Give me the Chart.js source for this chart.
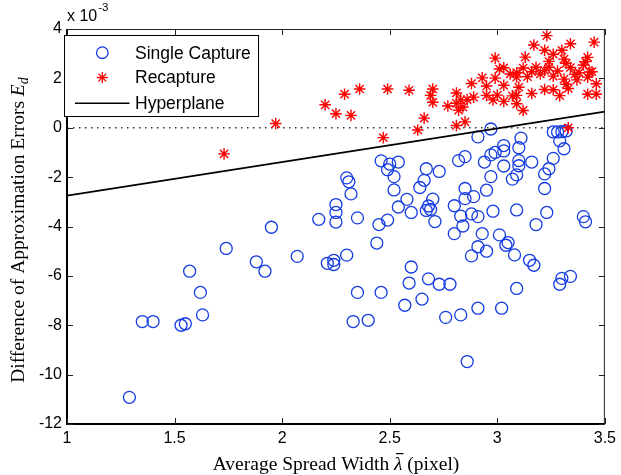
<!DOCTYPE html>
<html>
<head>
<meta charset="utf-8">
<script src="https://cdn.jsdelivr.net/npm/chart.js@4.4.1/dist/chart.umd.min.js"></script>
<style>
  html, body { margin: 0; padding: 0; background: #fff; }
  #wrap { width: 621px; height: 475px; position: relative; }
</style>
</head>
<body>
<div id="wrap"><canvas id="chart"></canvas></div>
<script>
// ═══ DATA (values in units of 1e-3 on the y axis) ═══
const singleX = [1.29, 1.35, 1.40, 1.53, 1.55, 1.62, 1.63, 1.57, 1.74, 1.88, 1.92, 1.95, 2.07, 2.17, 2.21,
  2.25, 2.25, 2.25, 2.24, 2.24, 2.33, 2.35, 2.40, 2.46, 2.30, 2.31, 2.32, 2.35, 2.30, 2.45, 2.49, 2.44,
  2.46, 2.50, 2.49, 2.54, 2.52, 2.52, 2.58, 2.54, 2.60, 2.64, 2.66, 2.67, 2.73, 2.70, 2.68, 2.67, 2.69,
  2.71, 2.60, 2.59, 2.57, 2.65, 2.68, 2.73, 2.78, 2.76, 2.83, 2.86, 2.91, 3.02, 3.09, 3.29, 3.30, 3.34,
  2.82, 2.85, 2.80, 2.85, 2.85, 2.83, 2.84, 2.80, 2.91, 2.97, 2.94, 2.97, 2.99, 3.03, 3.03, 3.03, 3.10,
  3.11, 3.10, 3.10, 3.09, 3.07, 3.16, 2.97, 2.95, 2.89, 2.88, 2.91, 2.98, 3.09, 2.93, 2.91, 2.88, 2.95,
  3.01, 3.04, 3.05, 3.08, 3.15, 3.17, 3.18, 3.23, 3.22, 3.22, 3.24, 3.26, 3.31, 3.29, 3.26, 3.28, 3.30,
  3.32, 3.40, 3.41];
const singleY = [-10.92, -7.85, -7.85, -8.00, -7.94, -6.67, -7.58, -5.81, -4.89, -5.43, -5.81, -4.03, -5.21, -3.71, -5.49,
  -3.11, -3.43, -3.82, -5.37, -5.54, -7.85, -6.67, -7.80, -6.67, -2.03, -2.19, -2.68, -3.65, -5.16, -3.92, -3.74, -4.67,
  -1.34, -1.47, -1.70, -1.39, -1.98, -2.52, -2.90, -3.21, -3.43, -2.42, -2.13, -1.66, -1.77, -2.89, -3.17, -3.35, -3.31,
  -3.80, -5.64, -6.29, -7.19, -6.94, -6.12, -6.34, -6.34, -7.68, -7.58, -9.47, -7.31, -7.31, -6.51, -6.34, -6.10, -6.02,
  -1.33, -1.17, -3.16, -2.46, -2.87, -3.58, -3.98, -4.29, -0.37, -0.05, -1.39, -1.10, -1.00, -0.72, -0.94, -1.55, -0.81,
  -0.42, -1.33, -1.54, -1.91, -2.08, -1.39, -1.98, -2.53, -2.79, -3.49, -3.60, -3.38, -3.33, -4.29, -4.82, -5.19, -5.00,
  -4.34, -4.76, -4.65, -5.15, -5.37, -5.57, -3.92, -3.43, -2.46, -1.87, -1.66, -1.24, -0.85, -0.53, -0.17, -0.17, -0.16,
  -0.13, -3.60, -3.81];

const recapX = [1.73, 1.97, 2.20, 2.25, 2.29, 2.32, 2.36, 2.47, 2.49, 2.59, 2.63, 2.66, 2.69, 2.70, 2.70,
  2.77, 2.81, 2.81, 2.85, 2.83, 2.86, 2.89, 2.81, 2.82, 2.84, 2.88, 2.93, 2.95, 2.99, 2.99, 3.01, 3.03,
  3.03, 2.95, 2.98, 3.00, 3.03, 3.09, 3.09, 3.10, 3.09, 3.09, 3.12, 3.13, 3.14, 3.16, 3.17, 3.18, 3.16,
  3.22, 3.22, 3.23, 3.24, 3.24, 3.26, 3.26, 3.22, 3.26, 3.29, 3.30, 3.31, 3.32, 3.31, 3.32, 3.33, 3.34,
  3.36, 3.34, 3.38, 3.40, 3.41, 3.42, 3.43, 3.42, 3.44, 3.45, 3.46, 3.42, 3.46, 3.33,
  3.06, 3.12, 3.20, 3.28, 3.37, 3.07];
const recapY = [-1.06, 0.17, 0.93, 0.57, 1.36, 0.50, 1.57, -0.40, 1.57, 1.52, -0.09, 0.39, 1.31, 1.57, 1.03,
  0.88, 1.41, 0.09, 0.24, 1.13, 1.14, 1.24, 0.99, 0.71, 0.84, 1.79, 2.02, 1.69, 2.01, 2.82, 2.38, 2.43,
  1.72, 1.31, 1.13, 1.32, 1.07, 2.23, 2.05, 1.64, 1.31, 0.97, 0.70, 2.86, 2.07, 2.27, 3.35, 2.45, 1.39,
  2.32, 3.14, 3.73, 2.69, 2.45, 2.09, 2.98, 1.55, 1.54, 1.30, 3.14, 2.78, 2.61, 1.97, 1.76, 1.59, 2.44,
  2.17, 3.40, 2.23, 2.54, 2.68, 2.85, 2.26, 2.05, 2.27, 3.47, 1.78, 1.36, 1.36, 0.00,
  2.18, 2.42, 2.18, 2.30, 1.94, 1.29];

const hyperX = [1, 3.5];
const hyperY = [-2.75, 0.65];

const zeroX = [1, 3.5];
const zeroY = [0, 0];

const xTicks = [1, 1.5, 2, 2.5, 3, 3.5];
const yTicks = [-12, -10, -8, -6, -4, -2, 0, 2, 4];

const legendLabels = ['Single Capture', 'Recapture', 'Hyperplane'];

const BLUE = 'rgb(20,60,225)';
const RED = '#ff0000';
const SANS = '"Liberation Sans", Arial, sans-serif';
const SERIF = '"Liberation Serif", "Times New Roman", serif';

const pts = (xs, ys) => xs.map((x, i) => ({ x: x, y: ys[i] }));

// ═══ FRAME, TICKS, TITLES, LEGEND ═══
const overlay = {
  id: 'overlay',
  afterDraw(chart) {
    const ctx = chart.ctx;
    const a = chart.chartArea;
    const sx = chart.scales.x, sy = chart.scales.y;
    ctx.save();

    // box
    ctx.fillStyle = '#000';
    ctx.fillRect(a.left - 1, a.top, 2, a.bottom - a.top + 1);
    ctx.fillRect(a.left - 1, a.bottom - 1, a.right - a.left + 1, 2);
    ctx.fillStyle = '#222';
    ctx.fillRect(a.left, a.top, a.right - a.left, 1);
    ctx.fillRect(a.right - 1, a.top, 1, a.bottom - a.top);

    // inward ticks on all four sides
    ctx.strokeStyle = '#222';
    ctx.lineWidth = 1;
    ctx.beginPath();
    xTicks.forEach(v => {
      const px = Math.round(sx.getPixelForValue(v)) + 0.5;
      ctx.moveTo(px, a.bottom); ctx.lineTo(px, a.bottom - 6);
      ctx.moveTo(px, a.top); ctx.lineTo(px, a.top + 6);
    });
    yTicks.forEach(v => {
      const py = Math.round(sy.getPixelForValue(v)) + 0.5;
      ctx.moveTo(a.left, py); ctx.lineTo(a.left + 6, py);
      ctx.moveTo(a.right, py); ctx.lineTo(a.right - 6, py);
    });
    ctx.stroke();

    // exponent label
    ctx.fillStyle = '#000';
    ctx.textBaseline = 'alphabetic';
    ctx.textAlign = 'left';
    ctx.font = '16px ' + SANS;
    ctx.fillText('x 10', 67, 21);
    const w10 = ctx.measureText('x 10').width;
    ctx.font = '11.5px ' + SANS;
    ctx.fillText('-3', 67 + w10 + 1, 11);

    // x title
    const xCenter = 336, xBase = 470, fs = 19.5;
    ctx.font = fs + 'px ' + SERIF;
    const t1 = 'Average Spread Width ';
    const t3 = ' (pixel)';
    const w1 = ctx.measureText(t1).width, w3 = ctx.measureText(t3).width;
    ctx.font = 'italic ' + fs + 'px ' + SERIF;
    const w2 = ctx.measureText('\u03bb').width;
    let x0 = xCenter - (w1 + w2 + w3) / 2;
    ctx.font = fs + 'px ' + SERIF;
    ctx.fillText(t1, x0, xBase);
    ctx.font = 'italic ' + fs + 'px ' + SERIF;
    ctx.fillText('\u03bb', x0 + w1, xBase);
    ctx.fillRect(x0 + w1 + 2, xBase - 17, w2 - 1, 1.2);
    ctx.font = fs + 'px ' + SERIF;
    ctx.fillText(t3, x0 + w1 + w2, xBase);

    // y title (rotated)
    ctx.save();
    ctx.translate(24, 230);
    ctx.rotate(-Math.PI / 2);
    const m = 'Difference of Approximation Errors ';
    ctx.font = fs + 'px ' + SERIF;
    const wm = ctx.measureText(m).width;
    ctx.font = 'italic ' + fs + 'px ' + SERIF;
    const we = ctx.measureText('E').width;
    ctx.font = 'italic 14px ' + SERIF;
    const wd = ctx.measureText('d').width;
    const y0 = -(wm + we + wd) / 2;
    ctx.font = fs + 'px ' + SERIF;
    ctx.fillText(m, y0, 0);
    ctx.font = 'italic ' + fs + 'px ' + SERIF;
    ctx.fillText('E', y0 + wm, 0);
    ctx.font = 'italic 14px ' + SERIF;
    ctx.fillText('d', y0 + wm + we, 4);
    ctx.restore();

    // legend
    const L = { left: 64.5, top: 35.5, right: 258.5, bottom: 116.5 };
    ctx.fillStyle = '#fff';
    ctx.fillRect(L.left, L.top, L.right - L.left, L.bottom - L.top);
    ctx.strokeStyle = '#000';
    ctx.lineWidth = 1;
    ctx.strokeRect(L.left, L.top, L.right - L.left, L.bottom - L.top);
    const rows = [52.7, 77.5, 103.3];
    const mx = 102.3;
    // circle
    ctx.strokeStyle = BLUE; ctx.lineWidth = 1.3;
    ctx.beginPath(); ctx.arc(mx, rows[0], 5.8, 0, Math.PI * 2); ctx.stroke();
    // star
    ctx.strokeStyle = RED; ctx.lineWidth = 1.3;
    ctx.beginPath();
    const r = 5.5, d = r * Math.SQRT1_2;
    ctx.moveTo(mx - r, rows[1]); ctx.lineTo(mx + r, rows[1]);
    ctx.moveTo(mx, rows[1] - r); ctx.lineTo(mx, rows[1] + r);
    ctx.moveTo(mx - d, rows[1] - d); ctx.lineTo(mx + d, rows[1] + d);
    ctx.moveTo(mx - d, rows[1] + d); ctx.lineTo(mx + d, rows[1] - d);
    ctx.stroke();
    // line
    ctx.strokeStyle = '#000'; ctx.lineWidth = 1.5;
    ctx.beginPath(); ctx.moveTo(75, rows[2]); ctx.lineTo(129.5, rows[2]); ctx.stroke();
    ctx.fillStyle = '#000';
    ctx.font = '17.5px ' + SANS;
    ctx.textBaseline = 'middle';
    legendLabels.forEach((t, i) => ctx.fillText(t, 135, rows[i] + 1));

    ctx.restore();
  }
};

// ═══ CHART ═══
new Chart(document.getElementById('chart'), {
  type: 'scatter',
  data: {
    datasets: [
      {
        label: legendLabels[2],
        type: 'line',
        data: pts(hyperX, hyperY),
        borderColor: '#000',
        borderWidth: 1.7,
        pointRadius: 0,
        fill: false,
        order: 0
      },
      {
        label: legendLabels[1],
        data: pts(recapX, recapY),
        pointStyle: 'star',
        pointRadius: 5.8,
        borderColor: RED,
        backgroundColor: RED,
        pointBorderWidth: 1.4,
        order: 1
      },
      {
        label: legendLabels[0],
        data: pts(singleX, singleY),
        pointStyle: 'circle',
        pointRadius: 6,
        borderColor: BLUE,
        backgroundColor: 'rgba(0,0,0,0)',
        pointBorderWidth: 1.3,
        order: 2
      },
      {
        label: 'zero',
        type: 'line',
        data: pts(zeroX, zeroY),
        borderColor: '#333',
        borderWidth: 1.3,
        borderDash: [1.5, 4.5],
        pointRadius: 0,
        fill: false,
        order: 3
      }
    ]
  },
  options: {
    responsive: true,
    maintainAspectRatio: false,
    animation: false,
    layout: { padding: { top: 29, right: 14, left: 0, bottom: 0 } },
    plugins: {
      legend: { display: false },
      tooltip: { enabled: false }
    },
    scales: {
      x: {
        type: 'linear',
        min: 1, max: 3.5,
        afterBuildTicks: s => { s.ticks = xTicks.map(v => ({ value: v })); },
        afterFit: s => { s.height = 51; },
        grid: { display: false, drawTicks: false },
        border: { display: false },
        ticks: {
          callback: v => String(v),
          color: '#000',
          padding: 5,
          maxRotation: 0,
          font: { family: SANS, size: 16 }
        }
      },
      y: {
        type: 'linear',
        min: -12, max: 4,
        afterBuildTicks: s => { s.ticks = yTicks.map(v => ({ value: v })); },
        afterFit: s => { s.width = 67; },
        grid: { display: false, drawTicks: false },
        border: { display: false },
        ticks: {
          callback: v => String(v),
          color: '#000',
          padding: 5,
          font: { family: SANS, size: 16 }
        }
      }
    }
  },
  plugins: [overlay]
});
</script>
</body>
</html>
